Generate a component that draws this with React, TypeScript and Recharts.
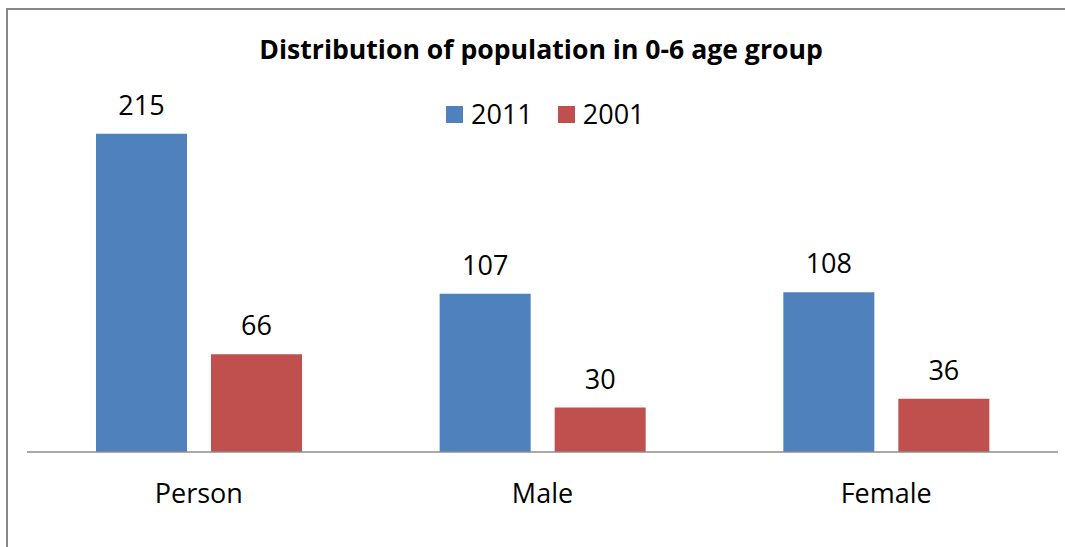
import { Bar, BarChart, LabelList, XAxis, YAxis } from "recharts";

const categories = ["Person", "Male", "Female"];
const values2011 = [215, 107, 108];
const values2001 = [66, 30, 36];
const seriesNames = ["2011", "2001"];

const FONT = "'Open Sans', 'Noto Sans', sans-serif";
const BLUE = "#4f81bd";
const RED = "#c0504d";

const data = categories.map((c, i) => ({
  name: c,
  y2011: values2011[i],
  y2001: values2001[i],
}));

function ChartLegend() {
  const items = [
    { label: seriesNames[0], color: BLUE },
    { label: seriesNames[1], color: RED },
  ];
  return (
    <div
      style={{
        position: "absolute",
        left: 446,
        top: 99,
        display: "flex",
        alignItems: "center",
        fontFamily: FONT,
        fontSize: 27,
        color: "#000",
      }}
    >
      {items.map((it, i) => (
        <div key={it.label} style={{ display: "flex", alignItems: "center", marginRight: i === 0 ? 25 : 0 }}>
          <span style={{ display: "inline-block", width: 17, height: 17, background: it.color, marginRight: 8 }} />
          <span style={{ lineHeight: "30px" }}>{it.label}</span>
        </div>
      ))}
    </div>
  );
}

export default function App() {
  return (
    <div style={{ position: "fixed", left: 0, top: 0, width: 1065, height: 547, background: "#fff" }}>
      <div
        style={{
          position: "absolute",
          left: 6,
          top: 8,
          width: 1059,
          height: 539,
          borderLeft: "2px solid #878787",
          borderTop: "2px solid #878787",
          boxSizing: "border-box",
        }}
      />
      <div
        style={{
          position: "absolute",
          left: 0,
          top: 34,
          width: 1082,
          textAlign: "center",
          fontFamily: FONT,
          fontWeight: 700,
          fontSize: 26.6,
          lineHeight: "30px",
          color: "#000",
        }}
      >
        Distribution of population in 0-6 age group
      </div>
      <ChartLegend />
      <div style={{ position: "absolute", left: 0, top: 0 }}>
        <BarChart
          width={1065}
          height={547}
          data={data}
          margin={{ top: 82, right: 7, left: 27, bottom: 35 }}
          barSize={91}
          barGap={24}
        >
          <XAxis
            dataKey="name"
            height={60}
            axisLine={{ stroke: "#8c8c8c", strokeWidth: 1.5 }}
            tickLine={false}
            tickMargin={26}
            tick={{ fill: "#000", fontSize: 27, fontFamily: FONT }}
          />
          <YAxis hide domain={[0, 250]} />
          <Bar dataKey="y2011" name={seriesNames[0]} fill={BLUE} isAnimationActive={false}>
            <LabelList
              dataKey="y2011"
              position="top"
              offset={19}
              style={{ fill: "#000", fontSize: 27, fontFamily: FONT }}
            />
          </Bar>
          <Bar dataKey="y2001" name={seriesNames[1]} fill={RED} isAnimationActive={false}>
            <LabelList
              dataKey="y2001"
              position="top"
              offset={19}
              style={{ fill: "#000", fontSize: 27, fontFamily: FONT }}
            />
          </Bar>
        </BarChart>
      </div>
    </div>
  );
}
